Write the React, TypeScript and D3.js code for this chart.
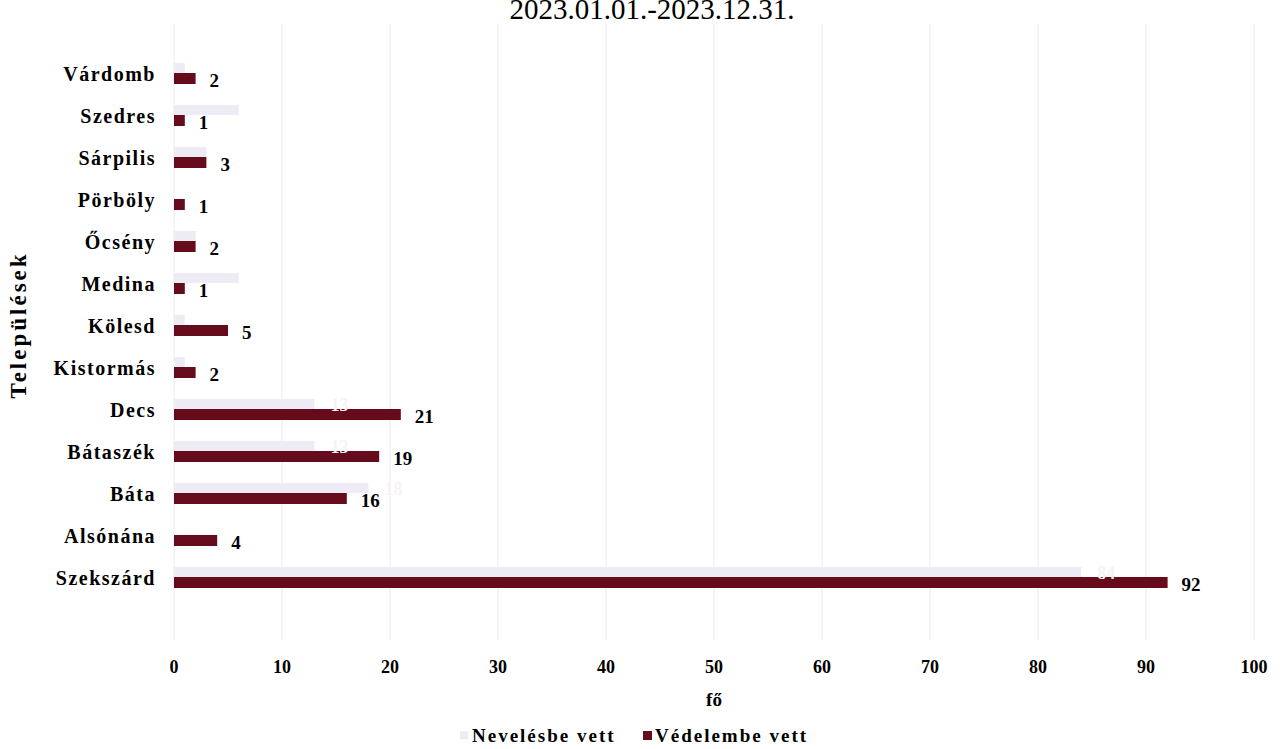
import React from "react";
import * as d3 from "d3";

const categories = ["Várdomb", "Szedres", "Sárpilis", "Pörböly", "Őcsény", "Medina", "Kölesd", "Kistormás", "Decs", "Bátaszék", "Báta", "Alsónána", "Szekszárd"];
const nevelesbe = [1, 6, 3, 0, 2, 6, 1, 1, 13, 13, 18, 0, 84];
const vedelembe = [2, 1, 3, 1, 2, 1, 5, 2, 21, 19, 16, 4, 92];
const xTicks = [0, 10, 20, 30, 40, 50, 60, 70, 80, 90, 100];
const seriesNames = ["Nevelésbe vett", "Védelembe vett"];

const W = 1285, H = 749;
const FONT = "'Liberation Serif', 'Times New Roman', serif";
const RED = "#650b1c";
const FAINT = "#efebf4";

export default function App() {
  const x = d3.scaleLinear().domain([0, 100]).range([174, 1254]);
  const y = d3.scaleBand<string>().domain(categories).range([52, 598]);
  const bw = 10;
  return (
    <svg width={W} height={H} style={{ position: "absolute", left: 0, top: 0, background: "#fff" }} fontFamily={FONT}>
      <text x={652} y={19} textAnchor="middle" fontSize={29}>2023.01.01.-2023.12.31.</text>
      {xTicks.map((t) => (
        <g key={t}>
          <line x1={x(t)} x2={x(t)} y1={24} y2={640} stroke="#f2f2f2" strokeWidth={1.5} />
          <text x={x(t)} y={673} textAnchor="middle" fontSize={18} fontWeight="bold">{t}</text>
        </g>
      ))}
      {categories.map((c, i) => {
        const cy = (y(c) as number) + y.bandwidth() / 2;
        return (
          <g key={c}>
            <text x={156} y={cy + 8} textAnchor="end" fontSize={20} fontWeight="bold" letterSpacing={1.5}>{c}</text>
            <rect x={x(0)} y={cy - bw} width={x(nevelesbe[i]) - x(0)} height={bw} fill={FAINT} />
            <rect x={x(0)} y={cy} width={x(vedelembe[i]) - x(0)} height={bw + 1} fill={RED} />
            <text x={x(vedelembe[i]) + 14} y={cy + 14} fontSize={19} fontWeight="bold">{vedelembe[i]}</text>
          </g>
        );
      })}
      {categories.map((c, i) => {
        const cy = (y(c) as number) + y.bandwidth() / 2;
        return nevelesbe[i] >= 10 ? (
          <text key={c + "n"} x={x(nevelesbe[i]) + 16} y={cy + 2} fontSize={18} fontWeight="bold" fill="#f6f3f6">{nevelesbe[i]}</text>
        ) : null;
      })}
      <text x={x(50)} y={706} textAnchor="middle" fontSize={19} fontWeight="bold">fő</text>
      <text transform="translate(26,325) rotate(-90)" textAnchor="middle" fontSize={23} fontWeight="bold" letterSpacing={3}>Települések</text>
      <g fontSize={19} fontWeight="bold">
        <rect x={460} y={731} width={8} height={8} fill={FAINT} />
        <text x={472} y={742} letterSpacing={2}>{seriesNames[0]}</text>
        <rect x={643} y={731} width={9} height={9} fill={RED} />
        <text x={655} y={742} letterSpacing={2}>{seriesNames[1]}</text>
      </g>
    </svg>
  );
}
